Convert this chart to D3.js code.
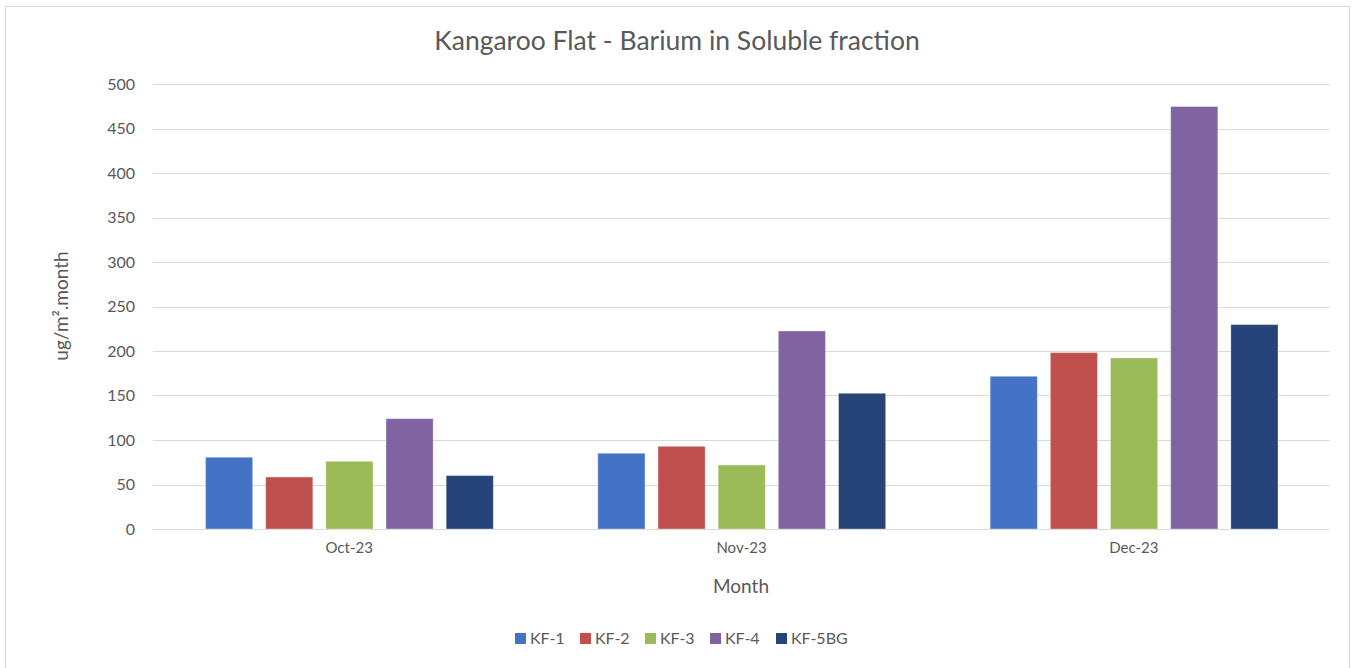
<!DOCTYPE html>
<html>
<head>
<meta charset="utf-8">
<script src="https://cdn.jsdelivr.net/npm/d3@7"></script>
<style>
  html, body { margin: 0; padding: 0; background: #fff; }
  svg { display: block; }
  text { font-family: Lato, "Open Sans", sans-serif; }
</style>
</head>
<body>
<svg id="chart" width="1355" height="668"></svg>
<script>
const categories = ["Oct-23", "Nov-23", "Dec-23"];
const seriesNames = ["KF-1", "KF-2", "KF-3", "KF-4", "KF-5BG"];
const kf1 = [80.6, 85.1, 171.6];
const kf2 = [58.4, 92.9, 198.2];
const kf3 = [76.1, 71.9, 192.2];
const kf4 = [124.0, 222.5, 474.7];
const kf5bg = [60.0, 152.5, 229.7];
const seriesValues = [kf1, kf2, kf3, kf4, kf5bg];
const colors = ["#4472C4", "#C0504D", "#9BBB59", "#8064A2", "#264478"];
const yTicks = [0, 50, 100, 150, 200, 250, 300, 350, 400, 450, 500];

const svg = d3.select("#chart");

// outer border
svg.append("rect").attr("x", 5.5).attr("y", 6.5).attr("width", 1344).attr("height", 670)
  .attr("fill", "#fff").attr("stroke", "#d9d9d9").attr("stroke-width", 1);

const plot = { left: 153, right: 1330, top: 84, bottom: 529 };

const x0 = d3.scaleBand().domain(categories).range([plot.left, plot.right]).paddingInner(0).paddingOuter(0);
const x1 = d3.scaleBand().domain(seriesNames).range([52.5, x0.bandwidth() - 52]).paddingInner(0.216).paddingOuter(0);
const y = d3.scaleLinear().domain([0, 500]).range([plot.bottom, plot.top]);

// gridlines
svg.append("g").selectAll("line").data(yTicks).join("line")
  .attr("x1", plot.left).attr("x2", plot.right)
  .attr("y1", d => Math.round(y(d)) + 0.5).attr("y2", d => Math.round(y(d)) + 0.5)
  .attr("stroke", "#d9d9d9").attr("stroke-width", 1);

// y axis labels
const yAxis = d3.axisLeft(y).tickValues(yTicks).tickSize(0).tickPadding(0);
const gy = svg.append("g").attr("transform", `translate(135,0)`).call(yAxis);
gy.select(".domain").remove();
gy.selectAll("text").attr("font-size", 16).attr("fill", "#595959")
  .attr("font-family", "Lato, sans-serif");

// bars
const rows = categories.map((c, i) => ({ cat: c, vals: seriesNames.map((s, j) => ({ s, v: seriesValues[j][i], j })) }));
const groups = svg.append("g").selectAll("g").data(rows).join("g")
  .attr("transform", d => `translate(${x0(d.cat)},0)`);
groups.selectAll("rect").data(d => d.vals).join("rect")
  .attr("x", d => x1(d.s)).attr("width", x1.bandwidth())
  .attr("y", d => y(d.v)).attr("height", d => y(0) - y(d.v))
  .attr("fill", d => colors[d.j])
  .attr("stroke", "#ffffff").attr("stroke-opacity", 0.35).attr("stroke-width", 1);

// x axis labels
const xAxis = d3.axisBottom(x0).tickSize(0).tickPadding(0);
const gx = svg.append("g").attr("transform", `translate(0,${plot.bottom + 13})`).call(xAxis);
gx.select(".domain").remove();
gx.selectAll("text").attr("font-size", 15).attr("fill", "#595959").attr("dy", "0.71em")
  .attr("font-family", "Lato, sans-serif");

// title
svg.append("text").attr("x", 677).attr("y", 50).attr("text-anchor", "middle")
  .attr("font-size", 26.5).attr("fill", "#595959").text("Kangaroo Flat - Barium in Soluble fraction");

// axis titles
svg.append("text").attr("x", 741).attr("y", 593).attr("text-anchor", "middle")
  .attr("font-size", 19).attr("fill", "#595959").text("Month");
svg.append("text").attr("transform", "translate(68,306) rotate(-90)").attr("text-anchor", "middle")
  .attr("font-size", 19).attr("fill", "#595959").text("ug/m².month");

// legend
const legendX = [515, 580, 645, 710, 776];
const lg = svg.append("g").selectAll("g").data(seriesNames).join("g")
  .attr("transform", (d, i) => `translate(${legendX[i]},633)`);
lg.append("rect").attr("width", 11).attr("height", 11).attr("fill", (d, i) => colors[i]);
lg.append("text").attr("x", 15).attr("y", 11).attr("font-size", 16).attr("fill", "#595959").text(d => d);
</script>
</body>
</html>
